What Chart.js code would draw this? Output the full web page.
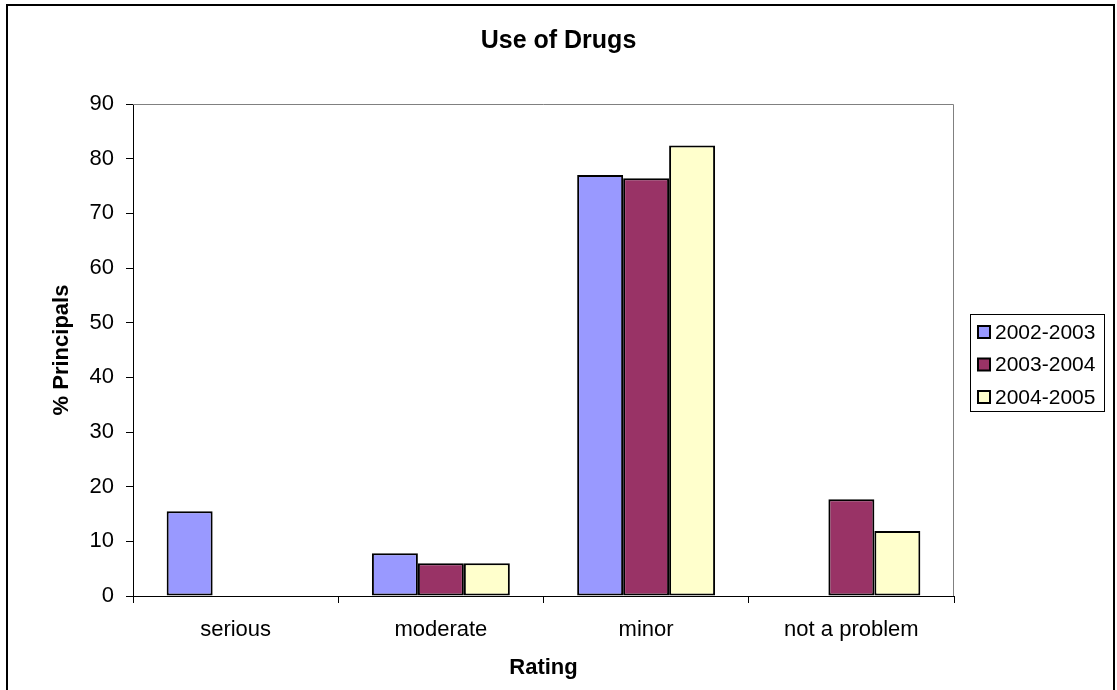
<!DOCTYPE html>
<html>
<head>
<meta charset="utf-8">
<script src="https://cdn.jsdelivr.net/npm/chart.js@4.4.0/dist/chart.umd.min.js"></script>
<style>
  html, body { margin: 0; padding: 0; background: #fff; }
  #wrap { width: 1117px; height: 690px; position: relative; }
</style>
</head>
<body>
<div id="wrap"><canvas id="c" width="1117" height="690"></canvas></div>
<script>
const categories = ["serious", "moderate", "minor", "not a problem"];
const seriesNames = ["2002-2003", "2003-2004", "2004-2005"];
const values2002 = [15.5, 7.8, 77.0, 0];
const values2003 = [0, 6.0, 76.4, 17.7];
const values2004 = [0, 6.0, 82.4, 11.9];
const seriesColors = ["#9999FF", "#993366", "#FFFFCC"];
const yTicks = { min: 0, max: 90, step: 10 };

const FONT = "'Liberation Sans', Arial, sans-serif";

const framePlugin = {
  id: 'frame',
  afterDraw(chart) {
    const ctx = chart.ctx;
    const a = chart.chartArea;
    ctx.save();
    ctx.strokeStyle = '#808080';
    ctx.lineWidth = 1;
    ctx.beginPath();
    ctx.moveTo(a.left, a.top + 0.5);
    ctx.lineTo(a.right - 0.5, a.top + 0.5);
    ctx.lineTo(a.right - 0.5, a.bottom);
    ctx.stroke();
    ctx.strokeStyle = '#000';
    ctx.lineWidth = 2;
    ctx.strokeRect(7, 5, 1107, 700);
    const lx = 970, ly = 314, lw = 134, lh = 97;
    ctx.lineWidth = 1;
    ctx.strokeStyle = '#000';
    ctx.strokeRect(lx + 0.5, ly + 0.5, lw, lh);
    ctx.font = "21px " + FONT;
    ctx.textBaseline = 'middle';
    ctx.textAlign = 'left';
    chart.data.datasets.forEach((ds, i) => {
      const cy = 332 + i * 32.5;
      ctx.fillStyle = ds.backgroundColor;
      ctx.fillRect(978, cy - 6, 12, 12);
      ctx.lineWidth = 2;
      ctx.strokeStyle = '#000';
      ctx.strokeRect(978, cy - 6, 12, 12);
      ctx.fillStyle = '#000';
      ctx.fillText(ds.label, 995, cy + 1);
    });
    ctx.restore();
  }
};

new Chart(document.getElementById('c'), {
  type: 'bar',
  data: {
    labels: categories,
    datasets: [
      { label: seriesNames[0], data: values2002, backgroundColor: seriesColors[0] },
      { label: seriesNames[1], data: values2003, backgroundColor: seriesColors[1] },
      { label: seriesNames[2], data: values2004, backgroundColor: seriesColors[2] }
    ].map(d => Object.assign(d, {
      borderColor: '#000', borderWidth: 2, borderSkipped: false,
      categoryPercentage: 0.672, barPercentage: 1.0
    }))
  },
  options: {
    responsive: false,
    animation: false,
    devicePixelRatio: 1,
    layout: { padding: { left: 0, right: 0, top: 0, bottom: 0 } },
    plugins: {
      legend: { display: false },
      tooltip: { enabled: false },
      title: {
        display: true,
        text: 'Use of Drugs',
        color: '#000',
        font: { family: FONT, size: 25, weight: 'bold' },
        padding: { top: 26, bottom: 48 }
      }
    },
    scales: {
      x: {
        afterFit(s) { s.height = 94; },
        grid: { display: true, drawOnChartArea: false, drawTicks: true, tickLength: 7, color: '#000', offset: true },
        border: { display: true, color: '#000', width: 1 },
        ticks: { color: '#000', font: { family: FONT, size: 22 }, padding: 14 },
        title: { display: true, text: 'Rating', color: '#000', font: { family: FONT, size: 22, weight: 'bold' }, padding: { top: 0, bottom: 9 } }
      },
      y: {
        min: yTicks.min, max: yTicks.max,
        afterFit(s) { s.width = 133; },
        grid: { display: true, drawOnChartArea: false, drawTicks: true, tickLength: 7, color: '#000' },
        border: { display: true, color: '#000', width: 1 },
        ticks: { stepSize: yTicks.step, color: '#000', font: { family: FONT, size: 22 }, padding: 12 },
        title: { display: true, text: '% Principals', color: '#000', font: { family: FONT, size: 22, weight: 'bold' }, padding: { top: 49, bottom: 0 } }
      },
      legendSpace: {
        type: 'linear',
        position: 'right',
        display: true,
        afterFit(s) { s.width = 163; },
        grid: { display: false, drawTicks: false },
        border: { display: false },
        ticks: { display: false }
      }
    }
  },
  plugins: [framePlugin]
});
</script>
</body>
</html>
